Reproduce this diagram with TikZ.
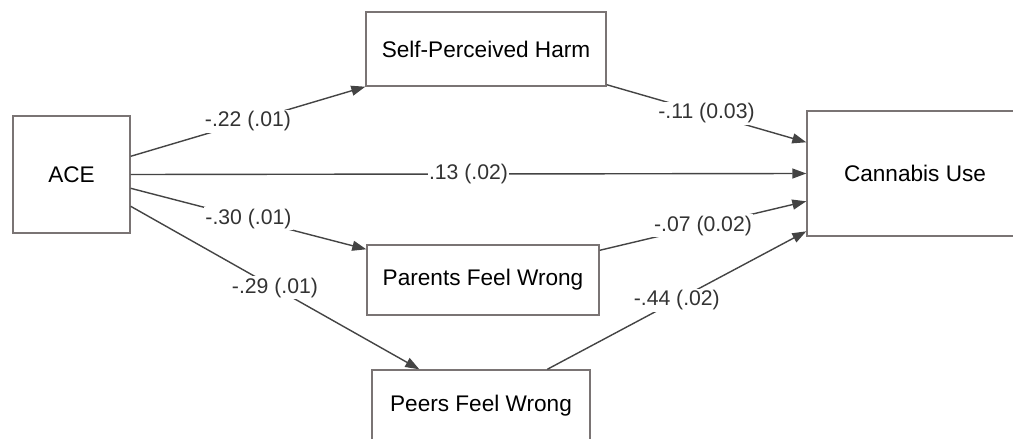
\documentclass[tikz,border=0pt]{standalone}
\usepackage{fontspec}
\setmainfont{Liberation Sans}
\usetikzlibrary{arrows.meta,calc}
\definecolor{boxgray}{HTML}{7A7474}
\definecolor{linegray}{HTML}{444444}
\definecolor{labgray}{HTML}{333333}
\begin{document}
\begin{tikzpicture}[x=1pt,y=-1pt,
  var/.style={draw=boxgray,line width=1.4pt,fill=white,inner sep=0pt,anchor=center,
    font=\fontsize{22.6}{25}\selectfont,text=black},
  path/.style={draw=linegray,line width=1.4pt,-{Triangle[length=14pt,width=10pt]}},
  coef/.style={fill=white,inner sep=1.5pt,text=labgray,font=\fontsize{21.2}{24}\selectfont,pos=0.5}]
\clip (0,0) rectangle (1013,439);
\fill[white] (0,0) rectangle (1013,439);
\node[var,minimum width=117pt,minimum height=117pt] (ace) at (71.5,174.5) {ACE};
\node[var,minimum width=240pt,minimum height=74pt] (sph) at (486,49) {Self-Perceived Harm};
\node[var,minimum width=232pt,minimum height=70pt] (pfw) at (483,280) {Parents Feel Wrong};
\node[var,minimum width=218pt,minimum height=71pt] (peer) at (481,405.5) {Peers Feel Wrong};
\node[var,minimum width=216pt,minimum height=125pt] (can) at (915,173.5) {Cannabis Use};
\draw[path] ($(ace.north east)+(0,41)$) -- (sph.south west) node[coef] {-.22 (.01)};
\draw[path] (ace.east) -- (can.west) node[coef] {.13 (.02)};
\draw[path] ($(ace.north east)+(0,73)$) -- ($(pfw.north west)+(0,5)$) node[coef] {-.30 (.01)};
\draw[path] ($(ace.north east)+(0,91)$) -- ($(peer.north west)+(48,0)$) node[coef] {-.29 (.01)};
\draw[path] ($(sph.south east)+(0,-2)$) -- ($(can.north west)+(0,32)$) node[coef] {-.11 (0.03)};
\draw[path] ($(pfw.north east)+(0,6)$) -- ($(can.north west)+(0,91)$) node[coef] {-.07 (0.02)};
\draw[path] ($(peer.north west)+(176,0)$) -- ($(can.north west)+(0,121)$) node[coef] {-.44 (.02)};
\end{tikzpicture}
\end{document}
